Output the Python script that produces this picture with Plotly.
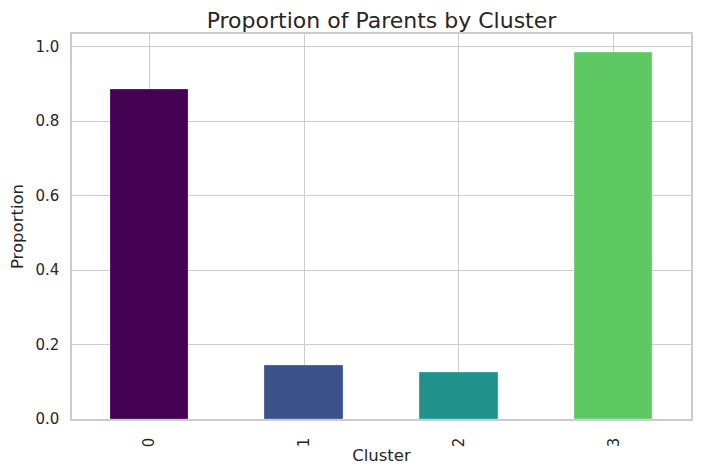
import plotly.graph_objects as go

clusters = ["0", "1", "2", "3"]
proportions = [0.884, 0.142, 0.124, 0.983]
colors = ["#440154", "#3b528b", "#21918c", "#5ec962"]
edge_colors = ["#5a1a6a", "#5068a0", "#3aa6a0", "#76d478"]

W, H = 685, 459

fig = go.Figure(go.Bar(
    x=[0, 1, 2, 3], y=proportions, width=0.5,
    marker=dict(color=colors, line=dict(color=edge_colors, width=1)),
))

font = "DejaVu Sans"
fig.update_layout(
    width=W, height=H,
    margin=dict(l=64, r=2, t=26, b=48, autoexpand=False),
    plot_bgcolor="white", paper_bgcolor="white",
    font=dict(family=font, color="#262626", size=15),
    title=dict(text="Proportion of Parents by Cluster", x=0.5, xanchor="center",
               xref="paper",
               y=1 - 12 / H, yanchor="middle", font=dict(size=22, family=font, color="#262626")),
    showlegend=False,
    bargap=0,
)
fig.update_xaxes(
    range=[-0.5, 3.5], tickvals=[0, 1, 2, 3], ticktext=clusters, tickangle=-90,
    showgrid=True, gridcolor="#cccccc", gridwidth=1,
    showline=True, linecolor="#cccccc", linewidth=1.5, mirror=True,
    ticks="", tickfont=dict(size=15), zeroline=False, ticklabelstandoff=11,
    automargin=False,
    title=dict(text="Cluster", font=dict(size=16.5), standoff=3),
)
fig.update_yaxes(
    range=[0, 1.0336], tickvals=[0, 0.2, 0.4, 0.6, 0.8, 1.0],
    ticktext=["0.0", "0.2", "0.4", "0.6", "0.8", "1.0"],
    showgrid=True, gridcolor="#cccccc", gridwidth=1,
    showline=True, linecolor="#cccccc", linewidth=1.5, mirror=True,
    ticks="", tickfont=dict(size=15), zeroline=False, ticklabelstandoff=8,
    automargin=False,
    title=dict(text="Proportion", font=dict(size=16.5), standoff=8),
)

fig.write_html("out.html")
